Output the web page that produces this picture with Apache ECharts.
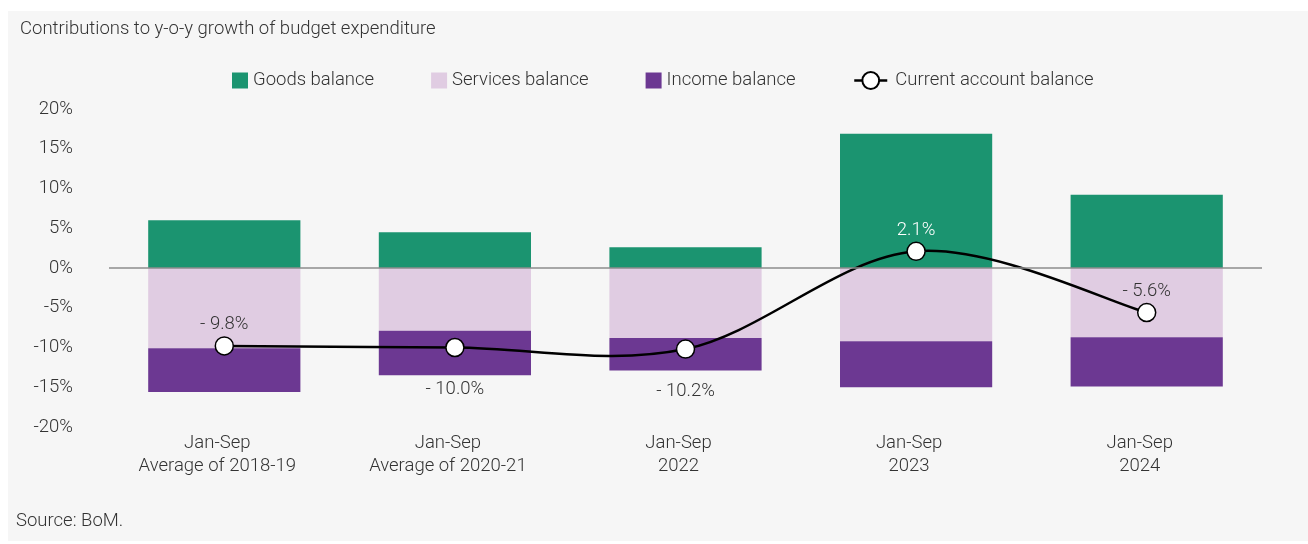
<!DOCTYPE html>
<html>
<head>
<meta charset="utf-8">
<script src="https://cdn.jsdelivr.net/npm/echarts@6/dist/echarts.min.js"></script>
<style>
  html, body { margin: 0; padding: 0; background: #ffffff; }
  #panel { position: absolute; left: 8px; top: 11px; right: 0; bottom: 3px; background: #f6f6f6; }
  #chart { position: absolute; left: 0; top: 0; width: 1308px; height: 544px; }
</style>
</head>
<body>
<div id="panel"></div>
<div id="chart"></div>
<script>
// Categories and values (percentage points)
const categories = [
  'Jan-Sep\nAverage of 2018-19',
  'Jan-Sep\nAverage of 2020-21',
  'Jan-Sep\n2022',
  'Jan-Sep\n2023',
  'Jan-Sep\n2024'
];
const goodsBalance = [6.0, 4.5, 2.6, 16.9, 9.2];
const servicesBalance = [-10.1, -7.9, -8.8, -9.2, -8.7];
const incomeBalance = [-5.5, -5.6, -4.1, -5.8, -6.2];
const currentAccount = [-9.8, -10.0, -10.2, 2.1, -5.6];
const yTicks = { min: -20, max: 20, step: 5 };

// Where each current-account label sits relative to its point
const labelSide = ['top', 'bottom', 'bottom', 'top', 'top'];

const FONT = 'Roboto';
const FS = 18.5;
const TXT = '#333333';
const GREEN = '#1b9470';
const LILAC = '#e0cce2';
const PURPLE = '#6c3892';

function fmtPct(v) {
  return (v < 0 ? '- ' + Math.abs(v).toFixed(1) : v.toFixed(1)) + '%';
}

const lineData = currentAccount.map((v, i) => {
  const above = labelSide[i] === 'top';
  return {
    value: v,
    label: {
      position: labelSide[i],
      distance: above ? 2 : 23,
      color: v > 0 ? '#ffffff' : TXT
    }
  };
});

// Cardinal (Catmull-Rom) curve through the current-account points, in pixel space
function renderCurve(params, api) {
  if (params.dataIndex !== 0) return null;
  const pts = currentAccount.map((v, i) => api.coord([i, v]));
  const n = pts.length;
  let d = 'M' + pts[0][0] + ',' + pts[0][1];
  for (let i = 0; i < n - 1; i++) {
    const p0 = pts[Math.max(i - 1, 0)];
    const p1 = pts[i];
    const p2 = pts[i + 1];
    const p3 = pts[Math.min(i + 2, n - 1)];
    const c1x = p1[0] + (p2[0] - p0[0]) / 6;
    const c1y = p1[1] + (p2[1] - p0[1]) / 6;
    const c2x = p2[0] - (p3[0] - p1[0]) / 6;
    const c2y = p2[1] - (p3[1] - p1[1]) / 6;
    d += ' C' + c1x + ',' + c1y + ' ' + c2x + ',' + c2y + ' ' + p2[0] + ',' + p2[1];
  }
  return {
    type: 'path',
    shape: { pathData: d },
    style: { fill: 'none', stroke: '#000000', lineWidth: 2.5 }
  };
}

const chart = echarts.init(document.getElementById('chart'), null, { renderer: 'canvas' });

chart.setOption({
  backgroundColor: 'transparent',
  animation: false,
  textStyle: { fontFamily: FONT, fontWeight: 300 },
  graphic: [
    {
      type: 'text', left: 20, top: 20,
      style: { text: 'Contributions to y-o-y growth of budget expenditure', fill: TXT,
               font: '300 ' + FS + 'px ' + FONT }
    },
    {
      type: 'text', left: 16, top: 512,
      style: { text: 'Source: BoM.', fill: TXT, font: '300 ' + FS + 'px ' + FONT }
    }
  ],
  legend: [
    {
      data: ['Goods balance', 'Services balance', 'Income balance'],
      left: 227, top: 66,
      itemWidth: 16, itemHeight: 16, itemGap: 57,
      icon: 'rect',
      textStyle: { color: TXT, fontSize: FS, fontFamily: FONT, fontWeight: 300 }
    },
    {
      data: [{ name: 'Current account balance', lineStyle: { color: '#000000', width: 2.5, opacity: 1 } }],
      left: 848, top: 66,
      itemWidth: 33, itemHeight: 21,
      textStyle: { color: TXT, fontSize: FS, fontFamily: FONT, fontWeight: 300, padding: [0, 0, 0, 3] }
    }
  ],
  grid: { left: 109, right: 46, top: 109, bottom: 117 },
  xAxis: {
    type: 'category',
    data: categories,
    axisLine: { show: false },
    axisTick: { show: false },
    axisLabel: { color: TXT, fontSize: FS, lineHeight: 23, margin: 5, padding: [0, 14, 0, 0],
                 fontFamily: FONT, fontWeight: 300 }
  },
  yAxis: {
    type: 'value',
    min: yTicks.min, max: yTicks.max, interval: yTicks.step,
    axisLine: { show: false },
    axisTick: { show: false },
    splitLine: { show: false },
    axisLabel: { formatter: '{value}%', color: TXT, fontSize: FS, margin: 36, fontFamily: FONT, fontWeight: 300 }
  },
  series: [
    {
      name: 'Goods balance', type: 'bar', stack: 'bal', barWidth: '66%',
      itemStyle: { color: GREEN },
      data: goodsBalance,
      markLine: {
        silent: true, symbol: 'none', label: { show: false },
        lineStyle: { color: '#8c8c8c', width: 1.5, type: 'solid' },
        data: [{ yAxis: 0 }]
      },
      z: 2
    },
    {
      name: 'Services balance', type: 'bar', stack: 'bal', barWidth: '66%',
      itemStyle: { color: LILAC },
      data: servicesBalance,
      z: 2
    },
    {
      name: 'Income balance', type: 'bar', stack: 'bal', barWidth: '66%',
      itemStyle: { color: PURPLE },
      data: incomeBalance,
      z: 2
    },
    {
      name: 'Current account curve', type: 'custom',
      renderItem: renderCurve,
      data: currentAccount.map((v, i) => [i, v]),
      silent: true,
      z: 4
    },
    {
      name: 'Current account balance', type: 'line',
      symbol: 'circle', symbolSize: 18,
      lineStyle: { color: '#000000', width: 2.5, opacity: 0 },
      itemStyle: { color: '#ffffff', borderColor: '#000000', borderWidth: 1.5 },
      label: {
        show: true, fontSize: FS, fontFamily: FONT, fontWeight: 300,
        formatter: p => fmtPct(p.value)
      },
      data: lineData,
      z: 5
    }
  ]
});
</script>
</body>
</html>
